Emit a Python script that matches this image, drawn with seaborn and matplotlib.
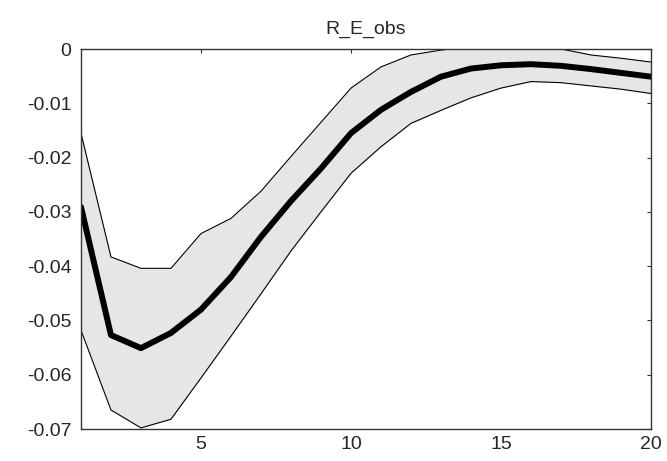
import numpy as np
import pandas as pd
import seaborn as sns
import matplotlib
matplotlib.use("Agg")
import matplotlib.pyplot as plt

# impulse response horizon and bands
horizon = list(range(1, 21))
median = [-0.0291, -0.0527, -0.0551, -0.0523, -0.0480, -0.0420, -0.0346, -0.0280,
          -0.0220, -0.0155, -0.0112, -0.0079, -0.0051, -0.0036, -0.0030, -0.0028,
          -0.0031, -0.0037, -0.0044, -0.0051]
upper = [-0.0155, -0.0383, -0.0404, -0.0404, -0.0340, -0.0312, -0.0262, -0.0198,
         -0.0135, -0.0072, -0.0033, -0.0011, -0.0002, 0.0004, 0.0006, 0.0005,
         0.0000, -0.0011, -0.0017, -0.0024]
lower = [-0.0518, -0.0665, -0.0698, -0.0682, -0.0606, -0.0529, -0.0451, -0.0372,
         -0.0300, -0.0229, -0.0180, -0.0137, -0.0113, -0.0090, -0.0072, -0.0060,
         -0.0062, -0.0068, -0.0074, -0.0082]
ytick_labels = ["-0.07", "-0.06", "-0.05", "-0.04", "-0.03", "-0.02", "-0.01", "0"]
title = "R_E_obs"

df = pd.DataFrame({"h": horizon, "median": median, "upper": upper, "lower": lower})

sns.set_style("white")
plt.rcParams["font.family"] = ["Liberation Sans", "DejaVu Sans"]

fig = plt.figure(figsize=(6.67, 4.61), dpi=100)
ax = fig.add_axes([0.1214, 0.0694, 0.8546, 0.8243])

ax.fill_between(df["h"], df["lower"], df["upper"], color="#e6e6e6", linewidth=0)
sns.lineplot(data=df, x="h", y="upper", color="black", linewidth=0.8, ax=ax)
sns.lineplot(data=df, x="h", y="lower", color="black", linewidth=0.8, ax=ax)
sns.lineplot(data=df, x="h", y="median", color="black", linewidth=4.3, ax=ax)

ax.set_xlim(1, 20)
ax.set_ylim(-0.07, 0)
ax.set_xticks([5, 10, 15, 20])
ax.set_yticks(np.linspace(-0.07, 0, 8))
ax.set_yticklabels(ytick_labels)
ax.set_xlabel("")
ax.set_ylabel("")
ax.set_title(title, fontsize=14, pad=11)
ax.tick_params(direction="in", length=3, labelsize=14, color="#333333",
               top=True, right=True, labeltop=False, labelright=False)
ax.tick_params(axis="y", pad=7)
ax.tick_params(axis="x", pad=5)
for s in ax.spines.values():
    s.set_color("#333333")
    s.set_linewidth(1)

fig.savefig("out.png", dpi=100)
